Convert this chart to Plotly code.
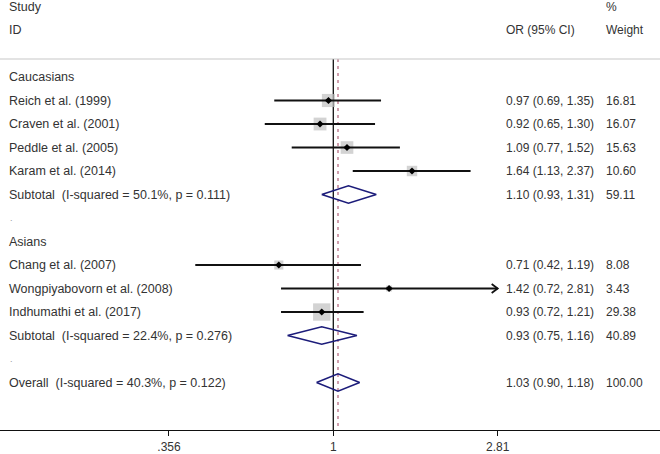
import math
import plotly.graph_objects as go

# ---- data ----
group_labels = ["Caucasians", "Asians"]
group_rows = [0, 7]

studies = ["Reich et al. (1999)", "Craven et al. (2001)", "Peddle et al. (2005)",
           "Karam et al. (2014)", "Chang et al. (2007)", "Wongpiyabovorn et al. (2008)",
           "Indhumathi et al. (2017)"]
study_rows = [1, 2, 3, 4, 8, 9, 10]
study_or = [0.97, 0.92, 1.09, 1.64, 0.71, 1.42, 0.93]
study_lo = [0.69, 0.65, 0.77, 1.13, 0.42, 0.72, 0.72]
study_hi = [1.35, 1.30, 1.52, 2.37, 1.19, 2.81, 1.21]
study_w = [16.81, 16.07, 15.63, 10.60, 8.08, 3.43, 29.38]
arrow_right = [False, False, False, False, False, True, False]

pooled_labels = ["Subtotal  (I-squared = 50.1%, p = 0.111)",
                 "Subtotal  (I-squared = 22.4%, p = 0.276)",
                 "Overall  (I-squared = 40.3%, p = 0.122)"]
pooled_rows = [5, 11, 13]
pooled_or = [1.10, 0.93, 1.03]
pooled_lo = [0.93, 0.75, 0.90]
pooled_hi = [1.31, 1.16, 1.18]
pooled_w = [59.11, 40.89, 100.00]

blank_rows = [6, 12]
overall_or = 1.03

tick_vals = [0.356, 1, 2.81]
tick_text = [".356", "1", "2.81"]

# ---- layout constants ----
W, H = 660, 454
X_LO_LOG10, X_HI_LOG10 = -0.9098, 0.8918
Y_TOP, Y_BOT = -3.277, 15.02
HEADER_LINE = -0.766
TXT = "#333333"
FONT = "Liberation Sans, Arial, sans-serif"
NAVY = "#1c1c7a"
LBL_SIZE = 12.5
NUM_SIZE = 12

fig = go.Figure()

# reference lines
fig.add_trace(go.Scatter(x=[1, 1], y=[HEADER_LINE, Y_BOT], mode="lines",
                         line=dict(color="#111111", width=1.3), hoverinfo="skip"))
fig.add_trace(go.Scatter(x=[overall_or, overall_or], y=[HEADER_LINE, Y_BOT], mode="lines",
                         line=dict(color="#b06078", width=1.2, dash="3px,4px"), hoverinfo="skip"))

# weight boxes
fig.add_trace(go.Scatter(
    x=study_or, y=study_rows, mode="markers",
    marker=dict(symbol="square", color="#c0c0c0",
                size=[3.2 * math.sqrt(w) for w in study_w], line=dict(width=0)),
    hoverinfo="skip"))

# CI lines
for o, lo, hi, r, arr in zip(study_or, study_lo, study_hi, study_rows, arrow_right):
    fig.add_trace(go.Scatter(x=[lo, hi], y=[r, r], mode="lines",
                             line=dict(color="#111111", width=1.8), hoverinfo="skip"))
    if arr:
        f = math.exp(6 / 159.0)
        fig.add_trace(go.Scatter(x=[hi / f, hi, hi / f], y=[r - 0.19, r, r + 0.19],
                                 mode="lines", line=dict(color="#111111", width=1.8),
                                 hoverinfo="skip"))

# point estimates
fig.add_trace(go.Scatter(x=study_or, y=study_rows, mode="markers",
                         marker=dict(symbol="diamond", color="#000000", size=5.5),
                         hoverinfo="skip"))

# pooled diamonds
for o, lo, hi, r in zip(pooled_or, pooled_lo, pooled_hi, pooled_rows):
    h = 0.37
    fig.add_trace(go.Scatter(x=[lo, o, hi, o, lo], y=[r, r - h, r, r + h, r], mode="lines",
                             line=dict(color=NAVY, width=1.6), hoverinfo="skip"))

ann = []


def txt(x, y, s, size):
    ann.append(dict(x=x / W, xref="paper", y=y, yref="y", text=s, showarrow=False,
                    xanchor="left", yanchor="middle", xshift=-1,
                    font=dict(family=FONT, size=size, color=TXT)))


OR_X, W_X, L_X = 505, 605, 8
txt(L_X, -3, "Study", LBL_SIZE)
txt(L_X, -2, "ID", LBL_SIZE)
txt(W_X, -3, "%", NUM_SIZE)
txt(OR_X, -2, "OR (95% CI)", NUM_SIZE)
txt(W_X, -2, "Weight", NUM_SIZE)
for g, r in zip(group_labels, group_rows):
    txt(L_X, r, g, LBL_SIZE)
for s, r, o, lo, hi, w in zip(studies, study_rows, study_or, study_lo, study_hi, study_w):
    txt(L_X, r, s, LBL_SIZE)
    txt(OR_X, r, f"{o:.2f} ({lo:.2f}, {hi:.2f})", NUM_SIZE)
    txt(W_X, r, f"{w:.2f}", NUM_SIZE)
for s, r, o, lo, hi, w in zip(pooled_labels, pooled_rows, pooled_or, pooled_lo, pooled_hi, pooled_w):
    txt(L_X, r, s, LBL_SIZE)
    txt(OR_X, r, f"{o:.2f} ({lo:.2f}, {hi:.2f})", NUM_SIZE)
    txt(W_X, r, f"{w:.2f}", NUM_SIZE)
for r in blank_rows:
    ann.append(dict(x=8 / W, xref="paper", y=r, yref="y", text=".", showarrow=False,
                    xanchor="left", yanchor="middle", font=dict(family=FONT, size=9, color="#999999")))

fig.update_layout(
    width=W, height=H,
    margin=dict(l=0, r=0, t=0, b=24),
    paper_bgcolor="white", plot_bgcolor="white",
    showlegend=False,
    annotations=ann,
    shapes=[dict(type="line", xref="paper", x0=0, x1=1, yref="y", y0=HEADER_LINE, y1=HEADER_LINE,
                 line=dict(color="#c8c8c8", width=1.2))],
    xaxis=dict(type="log", range=[X_LO_LOG10, X_HI_LOG10], tickvals=tick_vals, ticktext=tick_text,
               ticks="outside", ticklen=5, tickcolor="#111111", showline=True, linecolor="#111111",
               linewidth=1.2, showgrid=False, zeroline=False,
               tickfont=dict(family=FONT, size=NUM_SIZE, color=TXT)),
    yaxis=dict(range=[Y_BOT, Y_TOP], visible=False, showgrid=False, zeroline=False),
)

fig.write_html("out.html", config={"displayModeBar": False},
               post_script="document.body.style.margin='0px';")
